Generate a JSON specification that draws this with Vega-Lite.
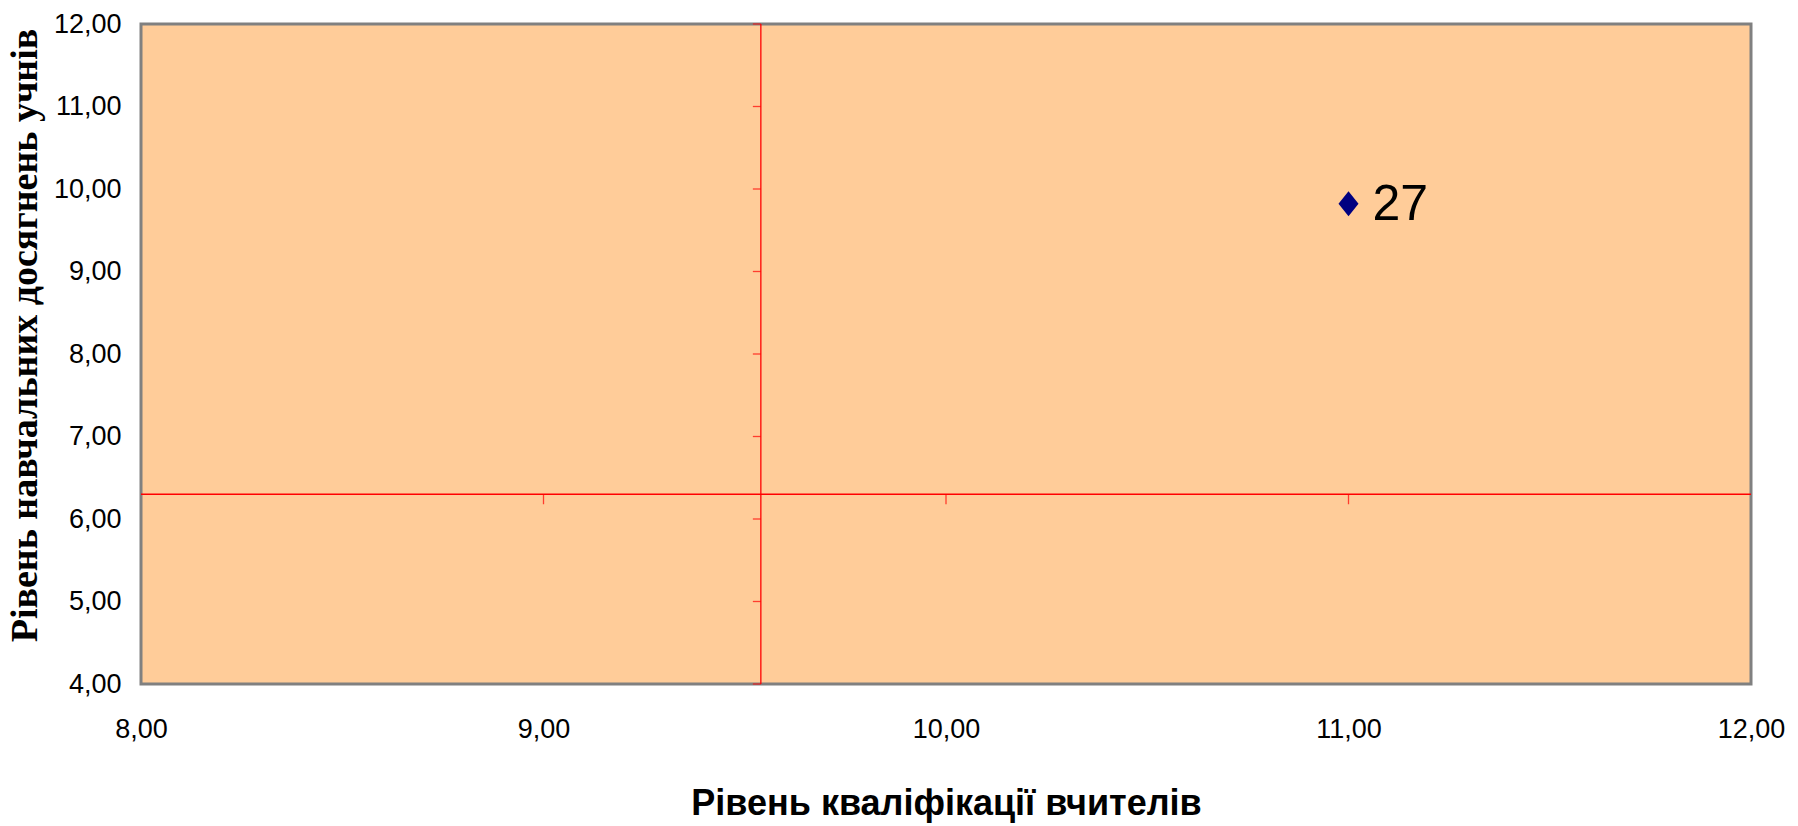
{
  "$schema": "https://vega.github.io/schema/vega-lite/v6.json",
  "width": 1610,
  "height": 660,
  "autosize": {"type": "none"},
  "padding": {"left": 141, "top": 24, "right": 47, "bottom": 142},
  "background": "white",
  "config": {
    "view": {"fill": "#FFCC99", "stroke": "#808080", "strokeWidth": 3},
    "font": "Liberation Sans"
  },
  "datasets": {
    "points": [{"x": 11.0, "y": 9.82, "label": "27"}],
    "means": [{"mx": 9.54, "my": 6.3}],
    "xticks": [{"x": 9, "y": 6.3}, {"x": 10, "y": 6.3}, {"x": 11, "y": 6.3}],
    "yticks": [{"x": 9.54, "y": 4}, {"x": 9.54, "y": 5}, {"x": 9.54, "y": 6}, {"x": 9.54, "y": 7}, {"x": 9.54, "y": 8}, {"x": 9.54, "y": 9}, {"x": 9.54, "y": 10}, {"x": 9.54, "y": 11}, {"x": 9.54, "y": 12}]
  },
  "layer": [
    {
      "data": {"name": "means"},
      "mark": {"type": "rule", "color": "#FF0000", "strokeWidth": 1.3},
      "encoding": {
        "x": {
          "field": "mx", "type": "quantitative",
          "scale": {"domain": [8, 12], "nice": false, "zero": false},
          "axis": {
            "title": "Рівень кваліфікації вчителів",
            "values": [8, 9, 10, 11, 12],
            "labelExpr": "replace(format(datum.value, '.2f'), '.', ',')",
            "domain": false, "ticks": false, "grid": false,
            "labelFont": "Liberation Sans", "labelFontSize": 27, "labelColor": "black",
            "labelPadding": 32, "labelFlush": false,
            "titleFont": "Liberation Sans", "titleFontSize": 36, "titleFontWeight": "bold",
            "titleColor": "black", "titlePadding": 44, "titleX": 805
          }
        }
      }
    },
    {
      "data": {"name": "means"},
      "mark": {"type": "rule", "color": "#FF0000", "strokeWidth": 1.3},
      "encoding": {
        "y": {
          "field": "my", "type": "quantitative",
          "scale": {"domain": [4, 12], "nice": false, "zero": false},
          "axis": {
            "title": "Рівень навчальних досягнень учнів",
            "values": [4, 5, 6, 7, 8, 9, 10, 11, 12],
            "labelExpr": "replace(format(datum.value, '.2f'), '.', ',')",
            "domain": false, "ticks": false, "grid": false,
            "labelFont": "Liberation Sans", "labelFontSize": 27, "labelColor": "black",
            "labelPadding": 20, "labelFlush": false,
            "titleFont": "Liberation Serif", "titleFontSize": 38, "titleFontWeight": "bold",
            "titleColor": "black", "titleX": -97, "titleY": 311
          }
        }
      }
    },
    {
      "data": {"name": "xticks"},
      "mark": {"type": "tick", "orient": "vertical", "color": "#FF0000", "size": 10, "thickness": 1.3, "yOffset": 5},
      "encoding": {
        "x": {"field": "x", "type": "quantitative"},
        "y": {"field": "y", "type": "quantitative"}
      }
    },
    {
      "data": {"name": "yticks"},
      "mark": {"type": "tick", "orient": "horizontal", "color": "#FF0000", "size": 8, "thickness": 1.3, "xOffset": -4},
      "encoding": {
        "x": {"field": "x", "type": "quantitative"},
        "y": {"field": "y", "type": "quantitative"}
      }
    },
    {
      "data": {"name": "points"},
      "mark": {"type": "point", "shape": "M0,-1.25L1,0L0,1.25L-1,0Z", "filled": true, "color": "#000080", "opacity": 1, "size": 400},
      "encoding": {
        "x": {"field": "x", "type": "quantitative"},
        "y": {"field": "y", "type": "quantitative"}
      }
    },
    {
      "data": {"name": "points"},
      "mark": {"type": "text", "align": "left", "baseline": "middle", "dx": 24, "dy": 1, "fontSize": 50, "font": "Liberation Sans", "color": "black"},
      "encoding": {
        "x": {"field": "x", "type": "quantitative"},
        "y": {"field": "y", "type": "quantitative"},
        "text": {"field": "label"}
      }
    }
  ]
}
